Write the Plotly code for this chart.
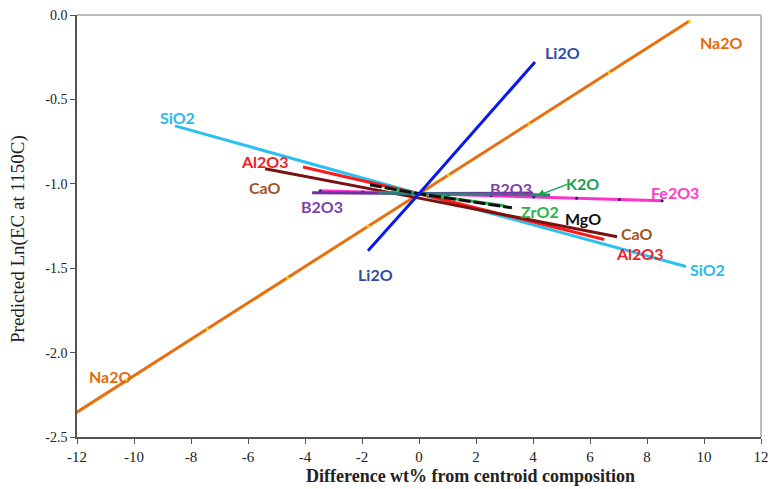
import plotly.graph_objects as go

# Predicted ln(EC) vs. deviation of each oxide from the centroid composition
na2o_x = [-13.07, -10.25, -7.43, -4.61, -1.79, 1.03, 3.85, 6.67, 9.49]
na2o_y = [-2.468, -2.164, -1.860, -1.556, -1.252, -0.948, -0.644, -0.340, -0.036]

li2o_x = [-1.79, 0.0, 4.07]
li2o_y = [-1.396, -1.059, -0.278]

sio2_x = [-8.56, 0.0, 9.37]
sio2_y = [-0.657, -1.059, -1.490]

al2o3_x = [-4.07, 0.0, 6.5]
al2o3_y = [-0.900, -1.059, -1.330]

cao_x = [-5.40, 0.0, 6.95]
cao_y = [-0.911, -1.085, -1.314]

fe2o3_x = [-3.47, -1.97, -0.47, 1.03, 2.53, 4.03, 5.53, 7.03, 8.53]
fe2o3_y = [-1.041, -1.048, -1.056, -1.063, -1.071, -1.078, -1.086, -1.093, -1.100]

b2o3_x = [-3.75, 0.0, 4.0]
b2o3_y = [-1.053, -1.057, -1.055]

k2o_x = [-1.47, 0.0, 4.6]
k2o_y = [-1.053, -1.059, -1.066]

zro2_x = [-1.2, 0.0, 3.0]
zro2_y = [-1.020, -1.059, -1.130]

mgo_x = [-1.72, 0.0, 3.26]
mgo_y = [-1.006, -1.059, -1.142]

x_ticks = [-12, -10, -8, -6, -4, -2, 0, 2, 4, 6, 8, 10, 12]
x_tick_text = ["-12", "-10", "-8", "-6", "-4", "-2", "0", "2", "4", "6", "8", "10", "12"]
y_ticks = [0.0, -0.5, -1.0, -1.5, -2.0, -2.5]
y_tick_text = ["0.0", "-0.5", "-1.0", "-1.5", "-2.0", "-2.5"]

x_title = "Difference wt% from centroid composition"
y_title = "Predicted Ln(EC at 1150C)"

# Series labels: text, x, y, colour
labels = [
    ("Na2O", 10.63, -0.16, "#E36C0A"),
    ("Na2O", -10.84, -2.142, "#E36C0A"),
    ("Li2O", 5.05, -0.225, "#2F4DA8"),
    ("Li2O", -1.54, -1.538, "#2F4DA8"),
    ("SiO2", -8.46, -0.609, "#2EB8EC"),
    ("SiO2", 10.14, -1.509, "#2EB8EC"),
    ("Al2O3", -5.40, -0.870, "#F01E1E"),
    ("Al2O3", 7.75, -1.414, "#F01E1E"),
    ("CaO", -5.40, -1.024, "#A0561E"),
    ("CaO", 7.65, -1.296, "#A0561E"),
    ("B2O3", -3.40, -1.136, "#7F3FA8"),
    ("B2O3", 3.23, -1.030, "#7F3FA8"),
    ("K2O", 5.75, -1.000, "#16A050"),
    ("Fe2O3", 8.98, -1.053, "#FF3CC8"),
    ("ZrO2", 4.25, -1.166, "#2DB34A"),
    ("MgO", 5.75, -1.207, "#111111"),
]

fig = go.Figure()


def add_line(x, y, color, width=3, dash="solid", marker=None):
    mode = "lines+markers" if marker else "lines"
    fig.add_trace(go.Scatter(
        x=x, y=y, mode=mode,
        line=dict(color=color, width=width, dash=dash),
        marker=marker, hoverinfo="skip", showlegend=False,
    ))


add_line(sio2_x, sio2_y, "#2CC0F0")
add_line(na2o_x, na2o_y, "#E8710F", marker=dict(size=3, color="#FFD200"))
add_line(al2o3_x, al2o3_y, "#FF1A1A")
add_line(cao_x, cao_y, "#7A1212")
add_line(fe2o3_x, fe2o3_y, "#FF33CC", marker=dict(size=3, color="#1A1A80"))
add_line(b2o3_x, b2o3_y, "#7030A0")
add_line(zro2_x, zro2_y, "#2DB34A")
add_line(k2o_x, k2o_y, "#2E7F78")
add_line(mgo_x, mgo_y, "#111111", dash="12px,3px")
add_line(li2o_x, li2o_y, "#0A18F0")

annotations = [
    dict(x=x, y=y, text=t, showarrow=False, xref="x", yref="y",
         font=dict(family="Lato", size=16, color=c, weight="bold"))
    for t, x, y, c in labels
]
# Arrow from the K2O label to its line
annotations.append(dict(
    x=4.14, y=-1.071, ax=5.25, ay=-1.0, axref="x", ayref="y", xref="x", yref="y",
    text="", showarrow=True, arrowhead=2, arrowsize=1, arrowwidth=1.5,
    arrowcolor="#16A050", standoff=0, startstandoff=0,
))
# Axis titles
annotations.append(dict(
    x=470, y=476, xref="x domain", yref="paper", text=f"<b>{x_title}</b>",
    showarrow=False, xanchor="center", yanchor="middle",
    font=dict(family="Liberation Serif", size=18, color="#222222"),
))
annotations.append(dict(
    x=18, y=239, text=y_title, textangle=-90, showarrow=False,
    xanchor="center", yanchor="middle",
    font=dict(family="Liberation Serif", size=19, color="#222222"),
))

# place the title annotations in pixel space of the page
W, H = 768, 489
ml, mr, mt, mb = 77, 7, 15, 52
pw, ph = W - ml - mr, H - mt - mb
annotations[-2].update(xref="paper", yref="paper",
                       x=(470 - ml) / pw, y=(H - mb - 476) / ph)
annotations[-1].update(xref="paper", yref="paper",
                       x=(18 - ml) / pw, y=(H - mb - 239) / ph)

fig.update_layout(
    width=W, height=H,
    margin=dict(l=ml, r=mr, t=mt, b=mb),
    paper_bgcolor="white", plot_bgcolor="white",
    annotations=annotations,
    shapes=[
        dict(type="line", xref="paper", yref="paper", x0=0, x1=1, y0=1, y1=1,
             line=dict(color="#BBBBBB", width=2)),
        dict(type="line", xref="paper", yref="paper", x0=1, x1=1, y0=0, y1=1,
             line=dict(color="#BBBBBB", width=2)),
    ],
    xaxis=dict(
        range=[-12, 12], tickvals=x_ticks, ticktext=x_tick_text,
        showgrid=False, zeroline=False, showline=True, linecolor="#555555", linewidth=1.5,
        ticks="outside", ticklen=5, tickcolor="#555555",
        ticklabeloverflow="allow", automargin=False,
        tickfont=dict(family="Liberation Serif", size=15, color="#222222"),
    ),
    yaxis=dict(
        range=[-2.5, 0.0], tickvals=y_ticks, ticktext=y_tick_text,
        showgrid=False, zeroline=False, showline=True, linecolor="#555555", linewidth=1.5,
        ticks="outside", ticklen=5, tickcolor="#555555", automargin=False,
        tickfont=dict(family="Liberation Serif", size=14, color="#222222"),
    ),
)

fig.write_html("out.html")
